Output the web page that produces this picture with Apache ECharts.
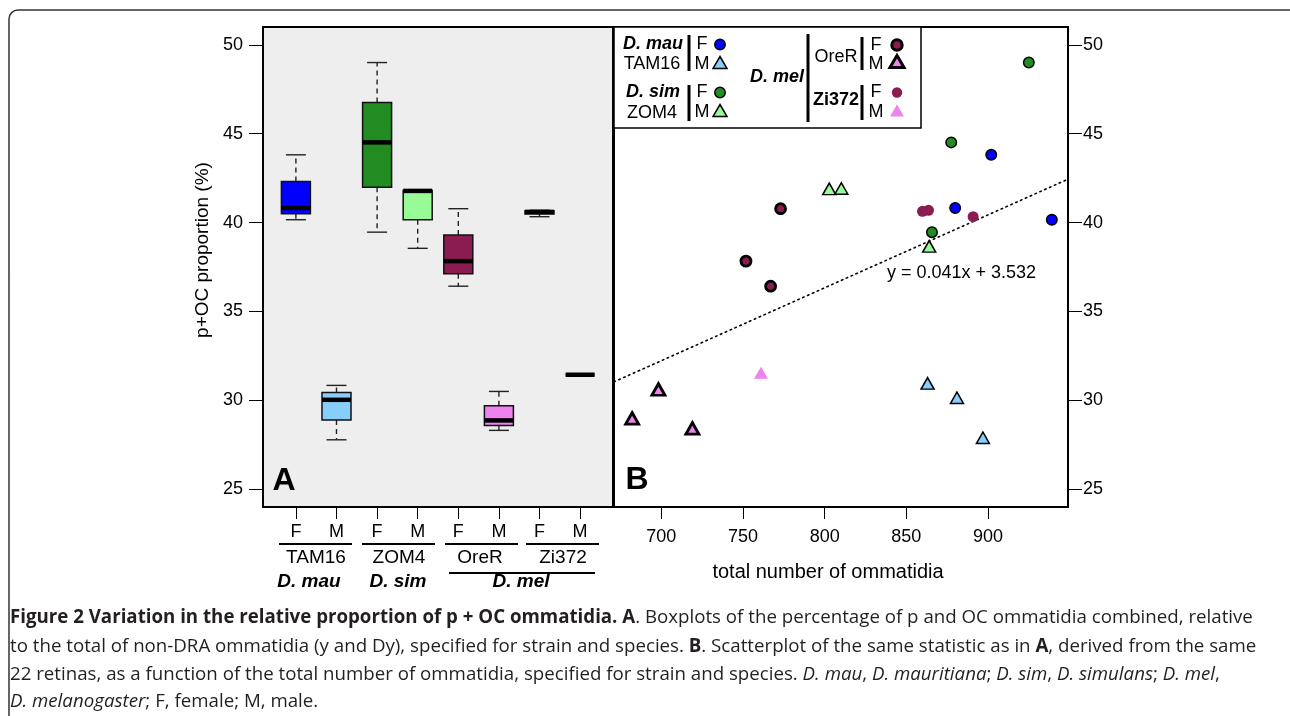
<!DOCTYPE html>
<html>
<head>
<meta charset="utf-8">
<script src="https://cdn.jsdelivr.net/npm/echarts@6/dist/echarts.min.js"></script>
<style>
html,body{margin:0;padding:0;background:#fff;}
#c{width:1290px;height:716px;}
</style>
</head>
<body>
<div id="c"></div>
<script>
// ---------- data ----------
const sexLabels = ['F', 'M', 'F', 'M', 'F', 'M', 'F', 'M'];
const strainLabels = ['TAM16', 'ZOM4', 'OreR', 'Zi372'];
const speciesLabels = ['D. mau', 'D. sim', 'D. mel'];
const yTicks = [25, 30, 35, 40, 45, 50];
const xTicksB = [700, 750, 800, 850, 900];

// boxplot statistics (panel A), one per F/M column
const boxLow  = [40.16, 27.78, 39.46, 38.55, 36.42, 28.31, 40.33, 31.44];
const boxQ1   = [40.49, 28.90, 41.98, 40.16, 37.12, 28.59, 40.48, 31.44];
const boxMed  = [40.82, 30.03, 44.51, 41.78, 37.83, 28.87, 40.60, 31.44];
const boxQ3   = [42.31, 30.44, 46.75, 41.80, 39.30, 29.69, 40.66, 31.44];
const boxHigh = [43.81, 30.84, 49.00, 41.80, 40.78, 30.50, 40.69, 31.44];
const boxColors = ['#0000ff', '#87cefa', '#228b22', '#98fb98', '#8b1c52', '#ee82ee', '#8b1c52', '#ee82ee'];

// scatter points (panel B): [total ommatidia, p+OC %]
const tam16F = [[902, 43.81], [879.9, 40.82], [939.1, 40.16]];
const tam16M = [[863, 30.84], [881, 30.03], [896.9, 27.78]];
const zom4F  = [[925, 49.0], [877.5, 44.51], [865.7, 39.46]];
const zom4M  = [[802.8, 41.78], [810.2, 41.80], [864, 38.55]];
const oreRF  = [[773, 40.78], [751.8, 37.83], [766.9, 36.42]];
const oreRM  = [[682.1, 28.87], [698.2, 30.50], [719, 28.31]];
const zi372F = [[859.9, 40.63], [863.6, 40.69], [890.9, 40.33]];
const zi372M = [[761, 31.44]];

// regression line endpoints (y = 0.041x + 3.532)
const trendX = [671, 949];
const trendY = [31.04, 42.44];
const trendLabel = 'y = 0.041x + 3.532';

// ---------- chart ----------
const FF = '"Liberation Sans", Arial, Helvetica, sans-serif';
const chart = echarts.init(document.getElementById('c'), null, {renderer: 'canvas'});

const boxData = boxMed.map((m, i) => [i + 1, boxLow[i], boxQ1[i], m, boxQ3[i], boxHigh[i]]);

function renderBox(params, api) {
  const x = api.value(0);
  const c = v => api.coord([x, v]);
  const pLow = c(api.value(1)), pQ1 = c(api.value(2)), pMed = c(api.value(3)),
        pQ3 = c(api.value(4)), pHigh = c(api.value(5));
  const cx = pMed[0], hw = 14.5, sw = 10;
  const dash = {stroke: '#222', lineWidth: 1.4, lineDash: [5, 4]};
  const solid = {stroke: '#222', lineWidth: 1.4};
  const children = [];
  if (pHigh[1] < pQ3[1] - 0.5) {
    children.push({type: 'line', shape: {x1: cx, y1: pQ3[1], x2: cx, y2: pHigh[1]}, style: dash});
    children.push({type: 'line', shape: {x1: cx - sw, y1: pHigh[1], x2: cx + sw, y2: pHigh[1]}, style: solid});
  }
  if (pLow[1] > pQ1[1] + 0.5) {
    children.push({type: 'line', shape: {x1: cx, y1: pQ1[1], x2: cx, y2: pLow[1]}, style: dash});
    children.push({type: 'line', shape: {x1: cx - sw, y1: pLow[1], x2: cx + sw, y2: pLow[1]}, style: solid});
  }
  children.push({type: 'rect', shape: {x: cx - hw, y: pQ3[1], width: 2 * hw, height: pQ1[1] - pQ3[1]},
    style: {fill: boxColors[params.dataIndex], stroke: '#111', lineWidth: 1.5}});
  children.push({type: 'line', shape: {x1: cx - hw, y1: pMed[1], x2: cx + hw, y2: pMed[1]},
    style: {stroke: '#000', lineWidth: 4.5}});
  return {type: 'group', children};
}

function sc(name, data, symbol, color, size, border) {
  return {
    name, type: 'scatter', xAxisIndex: 1, yAxisIndex: 1, data, symbol,
    symbolSize: size,
    symbolOffset: symbol === 'triangle' ? [0, -2] : [0, 0],
    itemStyle: {color, borderColor: '#000', borderWidth: border, opacity: 1},
    z: 5, silent: true
  };
}

const tickStyle = {color: '#000', width: 1};
const labelStyle = {color: '#000', fontSize: 18, fontFamily: FF};

// graphic helpers
const T = (text, x, y, opt = {}) => ({
  type: 'text', x, y, silent: true, rotation: opt.rot || 0,
  style: {text, fill: '#000', align: opt.align || 'center', verticalAlign: 'middle',
    font: (opt.font || '18px') + ' ' + FF}
});
const L = (x1, y1, x2, y2, w = 2) => ({type: 'line', silent: true,
  shape: {x1, y1, x2, y2}, style: {stroke: '#000', lineWidth: w}});
const Circ = (cx, cy, fill, lw) => ({type: 'circle', silent: true, shape: {cx, cy, r: 5.2},
  style: {fill, stroke: lw ? '#000' : null, lineWidth: lw || 0}});
const Tri = (cx, cy, fill, lw) => ({type: 'polygon', silent: true,
  shape: {points: [[cx, cy - 6.5], [cx + 7, cy + 5.5], [cx - 7, cy + 5.5]]},
  style: {fill, stroke: lw ? '#000' : null, lineWidth: lw || 0}});

const graphics = [
  // outer frame
  {type: 'rect', silent: true, shape: {x: 9, y: 10, width: 1290, height: 740, r: 9},
    style: {fill: null, stroke: '#333', lineWidth: 1.5}},
  // y axis title
  T('p+OC proportion (%)', 203, 250, {rot: Math.PI / 2, font: '19px'}),
  // panel letters
  T('A', 284, 481, {font: 'bold 32px'}),
  T('B', 637, 480, {font: 'bold 32px'}),
  // strain labels and underlines
  L(279, 544, 352, 544), L(362, 544, 435, 544), L(445, 544, 518, 544), L(526, 544, 599, 544),
  T(strainLabels[0], 316, 558, {font: '19px'}),
  T(strainLabels[1], 399, 558, {font: '19px'}),
  T(strainLabels[2], 480, 558, {font: '19px'}),
  T(strainLabels[3], 563, 558, {font: '19px'}),
  L(449, 573, 595, 573),
  T(speciesLabels[0], 309, 582, {font: 'italic bold 19px'}),
  T(speciesLabels[1], 398, 582, {font: 'italic bold 19px'}),
  T(speciesLabels[2], 521, 582, {font: 'italic bold 19px'}),
  // x axis title B
  T('total number of ommatidia', 828, 572, {font: '20px'}),
  // regression label
  T(trendLabel, 887, 273, {align: 'left'}),
  // legend box
  {type: 'rect', silent: true, shape: {x: 614, y: 27, width: 307, height: 101},
    style: {fill: '#fff', stroke: '#000', lineWidth: 1.5}, z: 10},
];
const legendItems = [
  T('D. mau', 653, 44, {font: 'italic bold 18px'}),
  T('TAM16', 652, 64),
  L(689, 35, 689, 71, 3),
  T('F', 702, 44), Circ(720, 44.5, '#0000ff', 1.5),
  T('M', 702, 64), Tri(720, 63, '#87cefa', 1.5),
  T('D. sim', 653, 92, {font: 'italic bold 18px'}),
  T('ZOM4', 652, 113),
  L(689, 85, 689, 121, 3),
  T('F', 702, 92), Circ(720, 92.5, '#228b22', 1.5),
  T('M', 702, 112), Tri(720, 111, '#98fb98', 1.5),
  T('D. mel', 777, 77, {font: 'italic bold 18px'}),
  L(808, 34, 808, 122, 3),
  T('OreR', 836, 57),
  L(862, 37, 862, 70, 3),
  T('F', 876, 45), Circ(897, 45, '#8b1c52', 3),
  T('M', 876, 64), Tri(897, 62, '#ee82ee', 3),
  T('Zi372', 836, 100, {font: 'bold 18px'}),
  L(862, 85, 862, 120, 3),
  T('F', 876, 92), Circ(897, 92.5, '#8b1c52', 0),
  T('M', 876, 112), Tri(897, 111, '#ee82ee', 0),
];
legendItems.forEach(g => { g.z = 11; graphics.push(g); });

// caption
const capFont = '"Open Sans", "Noto Sans", sans-serif';
const capSize = 18.7;
const capRich = {
  b: {fontFamily: capFont, fontSize: capSize, fontWeight: 'bold', fill: '#231f20'},
  n: {fontFamily: capFont, fontSize: capSize, fill: '#231f20'},
  i: {fontFamily: capFont, fontSize: capSize, fontStyle: 'italic', fill: '#231f20'}
};
const capLines = [
  '{b|Figure 2 Variation in the relative proportion of p + OC ommatidia. A}{n|. Boxplots of the percentage of p and OC ommatidia combined, relative}',
  '{n|to the total of non-DRA ommatidia (y and Dy), specified for strain and species. }{b|B}{n|. Scatterplot of the same statistic as in }{b|A}{n|, derived from the same}',
  '{n|22 retinas, as a function of the total number of ommatidia, specified for strain and species. }{i|D. mau}{n|, }{i|D. mauritiana}{n|; }{i|D. sim}{n|, }{i|D. simulans}{n|; }{i|D. mel}{n|,}',
  '{i|D. melanogaster}{n|; F, female; M, male.}'
];
const capY = [618, 647, 675, 702];
capLines.forEach((t, k) => graphics.push({type: 'text', silent: true, x: 10, y: capY[k],
  style: {text: t, rich: capRich, align: 'left', verticalAlign: 'middle'}}));

const option = {
  backgroundColor: '#fff',
  animation: false,
  grid: [
    {left: 263, top: 27, width: 350, height: 480, show: true, backgroundColor: '#eeeeee',
      borderColor: '#000', borderWidth: 2},
    {left: 614, top: 27, width: 454, height: 480, show: true, backgroundColor: '#fff',
      borderColor: '#000', borderWidth: 2}
  ],
  xAxis: [
    {type: 'value', gridIndex: 0, min: 0.19, max: 8.81,
      axisLine: {show: false}, splitLine: {show: false},
      axisTick: {show: true, length: 12, lineStyle: tickStyle, customValues: [1, 2, 3, 4, 5, 6, 7, 8]},
      axisLabel: Object.assign({margin: 16, customValues: [1, 2, 3, 4, 5, 6, 7, 8],
        formatter: v => sexLabels[Math.round(v) - 1]}, labelStyle)},
    {type: 'value', gridIndex: 1, min: 671, max: 949,
      axisLine: {show: false}, splitLine: {show: false},
      axisTick: {show: true, length: 12, lineStyle: tickStyle, customValues: xTicksB},
      axisLabel: Object.assign({margin: 21, customValues: xTicksB}, labelStyle)}
  ],
  yAxis: [
    {type: 'value', gridIndex: 0, min: 24, max: 51, position: 'left',
      axisLine: {show: false}, splitLine: {show: false},
      axisTick: {show: true, length: 14, lineStyle: tickStyle, customValues: yTicks},
      axisLabel: Object.assign({margin: 20, customValues: yTicks}, labelStyle)},
    {type: 'value', gridIndex: 1, min: 24, max: 51, position: 'right',
      axisLine: {show: false}, splitLine: {show: false},
      axisTick: {show: true, length: 14, lineStyle: tickStyle, customValues: yTicks},
      axisLabel: Object.assign({margin: 15, customValues: yTicks}, labelStyle)}
  ],
  series: [
    {type: 'custom', name: 'box', xAxisIndex: 0, yAxisIndex: 0, renderItem: renderBox,
      data: boxData, encode: {x: 0, y: [1, 2, 3, 4, 5]}, silent: true, z: 3},
    {type: 'line', name: 'trend', xAxisIndex: 1, yAxisIndex: 1,
      data: trendX.map((x, i) => [x, trendY[i]]), symbol: 'none', silent: true, z: 2,
      lineStyle: {color: '#000', width: 1.6, type: [1.5, 3.8], cap: 'round'}},
    sc('TAM16 F', tam16F, 'circle', '#0000ff', 10.5, 1.5),
    sc('TAM16 M', tam16M, 'triangle', '#87cefa', [13, 11.5], 1.5),
    sc('ZOM4 F', zom4F, 'circle', '#228b22', 10.5, 1.5),
    sc('ZOM4 M', zom4M, 'triangle', '#98fb98', [13, 11.5], 1.5),
    sc('OreR F', oreRF, 'circle', '#8b1c52', 10, 2.8),
    sc('OreR M', oreRM, 'triangle', '#ee82ee', [13, 11.5], 2.8),
    sc('Zi372 F', zi372F, 'circle', '#8b1c52', 11, 0),
    sc('Zi372 M', zi372M, 'triangle', '#ee82ee', [14, 12], 0)
  ],
  graphic: graphics
};
chart.setOption(option);
</script>
</body>
</html>
